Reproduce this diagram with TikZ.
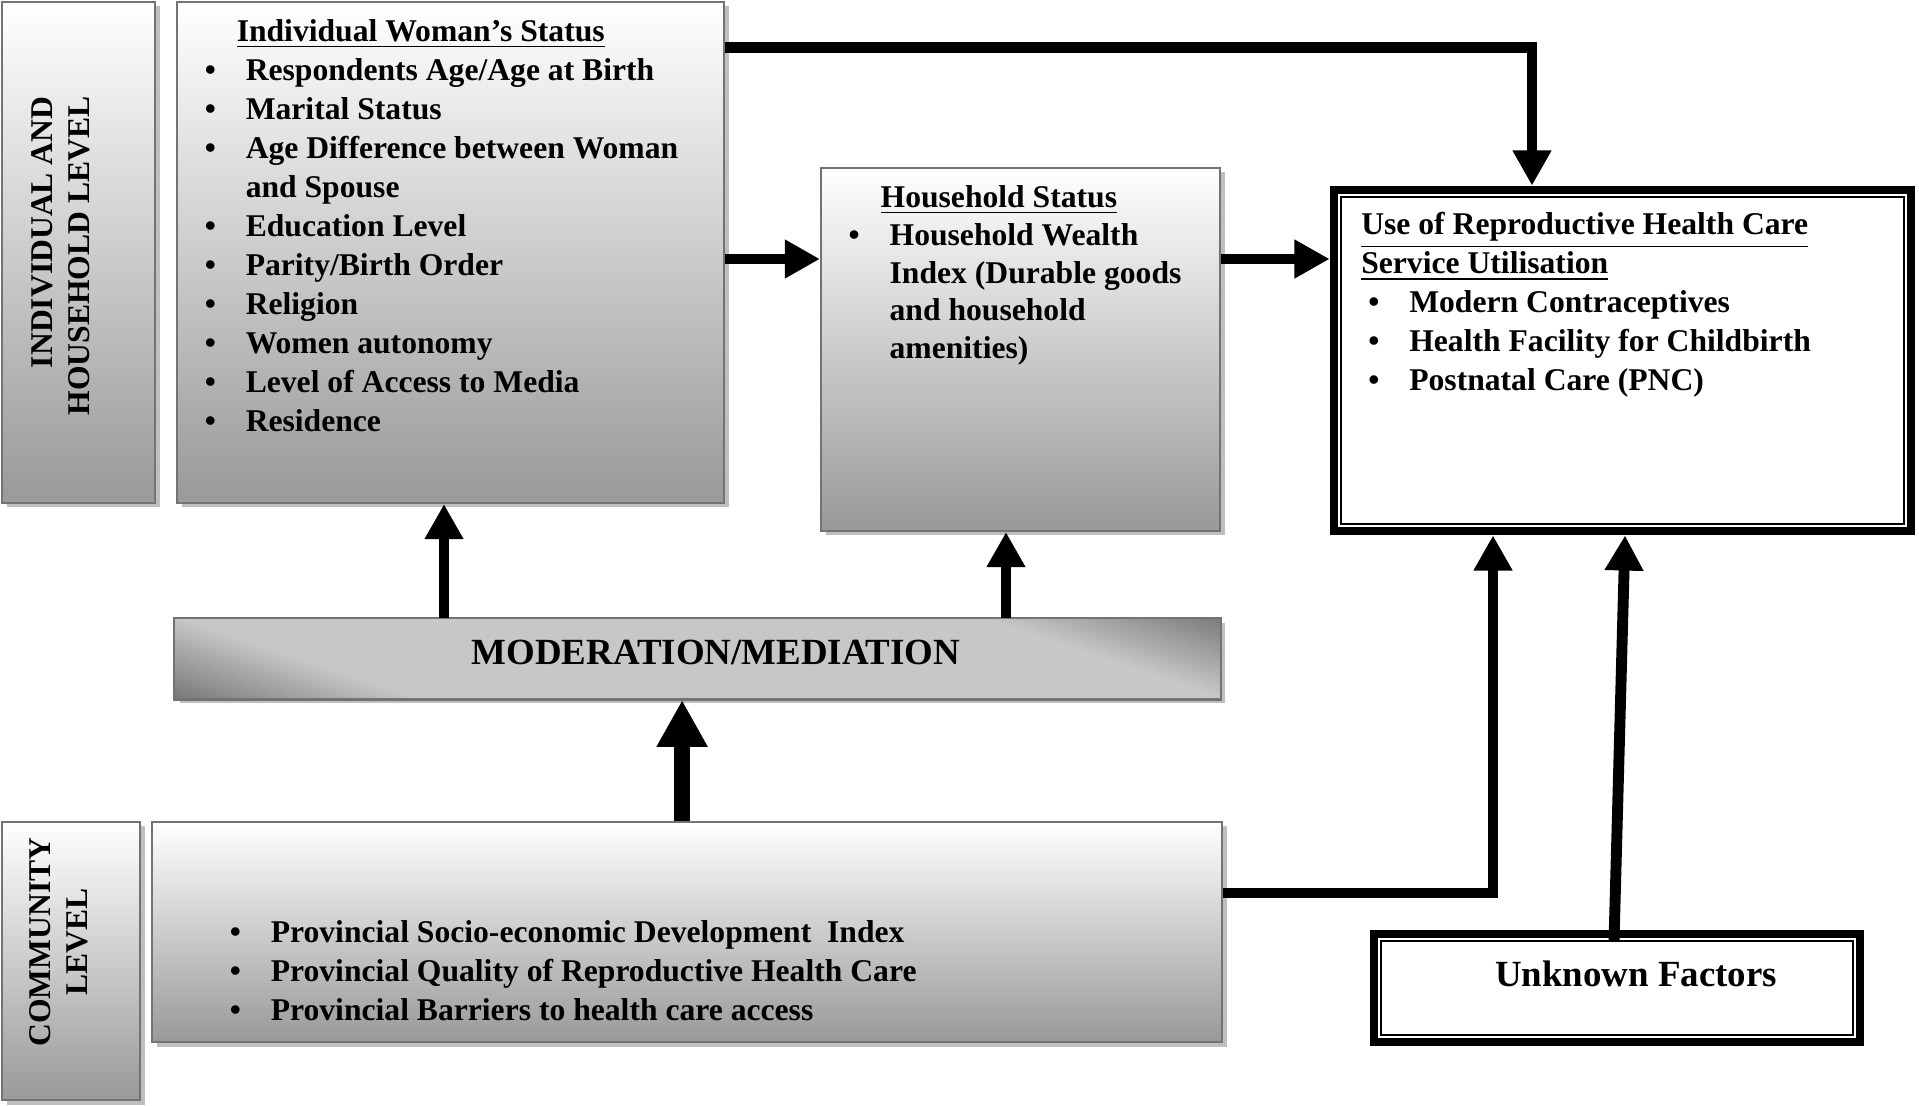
\documentclass[tikz,border=0pt]{standalone}
\usepackage{fontspec}
\setmainfont{Liberation Serif}
\usepackage{tikz}
\usetikzlibrary{positioning, arrows.meta, shadows}
\tikzstyle{panel} = [rectangle, draw=black!55, line width=0.6pt, inner sep=0pt, top color=white, bottom color=black!40, drop shadow={shadow xshift=0.045cm, shadow yshift=-0.045cm, fill=black!25, opacity=1}]
\tikzstyle{bar} = [rectangle, draw=black!55, line width=0.6pt, inner sep=0pt, drop shadow={shadow xshift=0.045cm, shadow yshift=-0.045cm, fill=black!25, opacity=1}]
\tikzstyle{outcome} = [rectangle, draw=black, line width=2.5pt, inner sep=0pt, fill=white]
\tikzstyle{inset} = [line width=0.7pt]
\tikzstyle{arrow} = [line width=3.1pt, -{Triangle[length=10pt, width=10.4pt]}]
\tikzstyle{bigarrow} = [line width=4.5pt, -{Triangle[length=13.3pt, width=13.6pt]}]
\tikzstyle{list} = [inner sep=0pt, align=left, font=\fontsize{9}{11.1}\selectfont\bfseries]
\tikzstyle{levelname} = [inner sep=0pt, rotate=90, font=\fontsize{9}{10.5}\selectfont\bfseries]
\newcommand{\itm}{\makebox[0.41cm][l]{\textbullet}}
\newcommand{\cnt}{\hspace*{0.41cm}}

\begin{document}
\begin{tikzpicture}
    \useasboundingbox (0,0) rectangle (19.19,11.05);
    % boxes
    \node (lvla) [panel, minimum width=1.53cm, minimum height=5.01cm] at (0.785,8.525) {};
    \node (indiv) [panel, right=0.2cm of lvla, minimum width=5.47cm, minimum height=5.01cm] {};
    \node (house) [panel, minimum width=3.99cm, minimum height=3.63cm] at (10.205,7.555) {};
    \node (use) [outcome, minimum width=5.77cm, minimum height=3.41cm] at (16.225,7.445) {};
    \node (moder) [bar, minimum width=10.45cm, minimum height=0.8cm] at (6.975,4.46) {};
    \node (lvlb) [panel, minimum width=1.38cm, minimum height=2.78cm] at (0.71,1.44) {};
    \node (comm) [panel, right=0.1cm of lvlb.north east, anchor=north west, minimum width=10.7cm, minimum height=2.2cm] {};
    \node (unknown) [outcome, minimum width=4.86cm, minimum height=1.08cm] at (16.17,1.17) {};
    \draw [inset] ([shift={(3.2pt,-3.2pt)}]use.north west) rectangle ([shift={(-3.2pt,3.2pt)}]use.south east);
    \draw [inset] ([shift={(3.2pt,-3.2pt)}]unknown.north west) rectangle ([shift={(-3.2pt,3.2pt)}]unknown.south east);

    % slanted shading of the moderation bar
    \begin{scope}
        \clip (moder.south west) rectangle (moder.north east);
        \foreach \s in {-2.4,-2.3,...,10.5} {
            \pgfmathsetmacro\tone{22+30*max(0,max((-1)*(\s)/2.4,((\s)-8.05)/2.4))}
            \fill [black!\tone] ([xshift=\s cm]moder.north west) -- ++(0.12,0) -- ++(2.4,-0.8) -- ++(-0.12,0) -- cycle;
        }
    \end{scope}
    \draw [black!55, line width=0.6pt] (moder.south west) rectangle (moder.north east);

    % texts
    \node (lvlatxt) [levelname, align=right] at ([xshift=-0.175cm, yshift=-0.035cm]lvla.center) {INDIVIDUAL AND\\HOUSEHOLD LEVEL};
    \node (lvlbtxt) [levelname, align=center] at ([xshift=-0.12cm, yshift=0.19cm]lvlb.center) {COMMUNITY\\LEVEL};
    \node (indivtxt) [list, below right=0.175cm and 0.28cm of indiv.north west] {\hspace*{0.32cm}\underline{Individual Woman’s Status}\\
        \itm Respondents Age/Age at Birth\\
        \itm Marital Status\\
        \itm Age Difference between Woman\\
        \cnt and Spouse\\
        \itm Education Level\\
        \itm Parity/Birth Order\\
        \itm Religion\\
        \itm Women autonomy\\
        \itm Level of Access to Media\\
        \itm Residence};
    \node (housetxt) [list, font=\fontsize{9}{10.8}\selectfont\bfseries, below right=0.175cm and 0.28cm of house.north west] {\hspace*{0.32cm}\underline{Household Status}\\
        \itm Household Wealth\\
        \cnt Index (Durable goods\\
        \cnt and household\\
        \cnt amenities)};
    \node (usetxt) [list, below right=0.26cm and 0.31cm of use.north west] {\underline{Use of Reproductive Health Care}\\
        \underline{Service Utilisation}\\
        \hspace*{0.07cm}\itm Modern Contraceptives\\
        \hspace*{0.07cm}\itm Health Facility for Childbirth\\
        \hspace*{0.07cm}\itm Postnatal Care (PNC)};
    \node (commtxt) [list, below right=0.985cm and 0.78cm of comm.north west] {\itm Provincial Socio-economic Development~ Index\\
        \itm Provincial Quality of Reproductive Health Care\\
        \itm Provincial Barriers to health care access};
    \node (modertxt) [font=\fontsize{10.5}{12}\selectfont\bfseries, inner sep=0pt] at ([xshift=0.185cm, yshift=0.07cm]moder.center) {MODERATION/MEDIATION};
    \node (unknowntxt) [font=\fontsize{10.5}{12}\selectfont\bfseries, inner sep=0pt] at ([xshift=0.19cm, yshift=0.14cm]unknown.center) {Unknown Factors};

    % arrows
    \coordinate (midrow) at ([yshift=-0.065cm]indiv.east);
    \coordinate (upa) at ([xshift=-2.535cm]moder.north);
    \coordinate (upb) at ([xshift=3.085cm]moder.north);
    \coordinate (upc) at ([xshift=-0.05cm]comm.north);
    \coordinate (side) at ([yshift=0.39cm]comm.east);
    \draw [arrow] ([yshift=-0.47cm]indiv.north east) -| ([xshift=-0.905cm]use.north);
    \draw [arrow] (midrow) -- (midrow -| house.west);
    \draw [arrow] (midrow -| house.east) -- (midrow -| use.west);
    \draw [arrow] (upa) -- (upa |- indiv.south);
    \draw [arrow] (upb) -- (upb |- house.south);
    \draw [bigarrow] (upc) -- (upc |- moder.south);
    \draw [arrow] (side) -| ([xshift=-1.295cm]use.south);
    \draw [arrow] ([xshift=-0.03cm, yshift=-0.12cm]unknown.north) -- ([xshift=0.025cm]use.south);
\end{tikzpicture}
\end{document}
